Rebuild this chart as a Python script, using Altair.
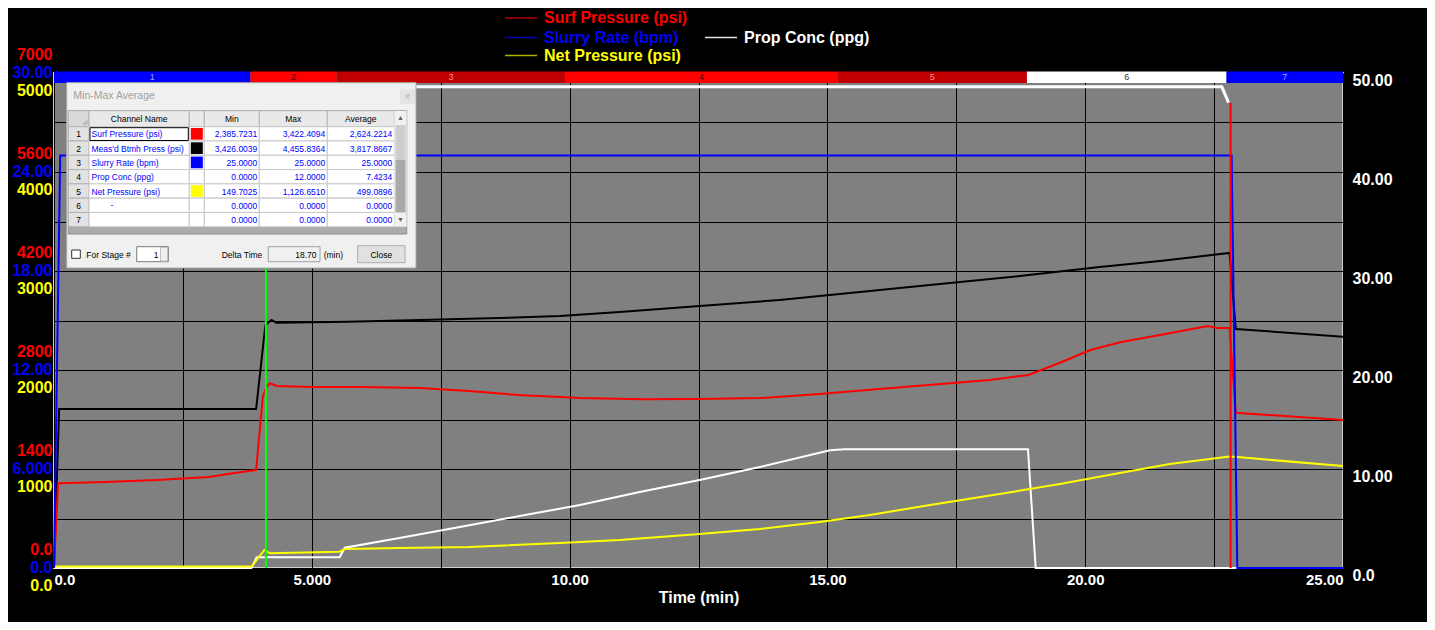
import altair as alt
import pandas as pd

# ---------------- data ----------------
surf_t = [0.0, 0.08, 1.0, 2.0, 3.0, 3.5, 3.92, 4.05, 4.12, 4.19, 4.32, 5.0, 6.0, 7.1, 8.05, 9.0, 10.2,
          11.4, 12.5, 13.7, 14.85, 16.0, 17.2, 18.15, 18.9, 19.5, 20.1, 20.7, 21.45, 22.38, 22.55, 22.8,
          22.92, 25.0]
surf_v = [0, 1200, 1216, 1244, 1287, 1343, 1386, 2420, 2560, 2612, 2575, 2560, 2560, 2545, 2503, 2446,
          2404, 2388, 2390, 2404, 2460, 2531, 2602, 2658, 2730, 2899, 3083, 3196, 3295, 3422, 3394, 3394,
          2196, 2093]

btmh_t = [0.0, 0.1, 3.92, 4.1, 4.22, 4.31, 5.7, 7.1, 8.64, 9.81, 10.97, 12.52, 14.07, 15.63, 17.18,
          18.73, 20.28, 21.45, 22.8, 22.92, 25.0]
btmh_v = [0, 2248, 2248, 3436, 3507, 3469, 3483, 3507, 3535, 3564, 3620, 3705, 3790, 3903, 4016, 4129,
          4257, 4341, 4455, 3380, 3271]

rate_t = [0.0, 0.12, 22.84, 22.95, 25.0]
rate_v = [0, 25, 25, 0, 0]

net_t = [0.0, 3.83, 4.08, 4.18, 5.54, 5.64, 6.7, 8.06, 9.81, 10.97, 12.52, 13.69, 14.85, 15.82, 16.99,
         18.34, 19.51, 20.67, 21.64, 22.8, 22.95, 25.0]
net_v = [15, 15, 182, 150, 165, 192, 202, 212, 253, 283, 343, 394, 465, 535, 636, 747, 848, 960, 1050,
         1126, 1120, 1030]

prop_t = [0.0, 3.83, 3.93, 5.54, 5.64, 6.7, 7.87, 9.03, 10.2, 11.36, 12.52, 13.69, 15.05, 15.33, 18.89,
          19.04, 25.0]
prop_v = [0, 0, 1.08, 1.08, 2.05, 3.03, 4.14, 5.25, 6.36, 7.68, 8.89, 10.2, 11.9, 12.0, 12.0, 0, 0]

top_t = [0.3, 22.65, 22.78]
top_v = [48.6, 48.6, 47.0]

stage_edges = [0.0, 3.81, 5.48, 9.92, 15.20, 18.87, 22.74, 25.0]
stage_names = ["1", "2", "3", "4", "5", "6", "7"]
stage_fill = ["#0000ff", "#ff0000", "#c00000", "#ff0000", "#c00000", "#ffffff", "#0000ff"]
stage_label_color = ["#a0a0ff", "#500000", "#ff9090", "#500000", "#ff9090", "#333333", "#a0a0ff"]

marker_t = [4.11, 22.82]
marker_top = [50.0, 47.0]
marker_color = ["#00ff00", "#ff0000"]

legend_labels = ["Surf Pressure (psi)", "Slurry Rate (bpm)", "Net Pressure (psi)", "Prop Conc (ppg)"]
legend_text_color = ["#ff0000", "#0000ff", "#ffff00", "#ffffff"]
legend_line_color = ["#b00000", "#0000b0", "#b0b000", "#e0e0e0"]

table_headers = ["Channel Name", "", "Min", "Max", "Average"]
table_channels = ["Surf Pressure (psi)", "Meas'd Btmh Press (psi)", "Slurry Rate (bpm)",
                  "Prop Conc (ppg)", "Net Pressure (psi)", "-", ""]
table_swatch = ["#ff0000", "#000000", "#0000ff", "", "#ffff00", "", ""]
table_min = ["2,385.7231", "3,426.0039", "25.0000", "0.0000", "149.7025", "0.0000", "0.0000"]
table_max = ["3,422.4094", "4,455.8364", "25.0000", "12.0000", "1,126.6510", "0.0000", "0.0000"]
table_avg = ["2,624.2214", "3,817.8667", "25.0000", "7.4234", "499.0896", "0.0000", "0.0000"]
dialog_title = "Min-Max Average"
stage_label = "For Stage #"
stage_number = "1"
delta_label = "Delta Time"
delta_value = "18.70"
delta_unit = "(min)"
close_label = "Close"

# ---------------- layout ----------------
FONT = "Liberation Sans"
W, H = 1289, 495
OX, OY = 54, 73          # page position of the plot origin

x_axis = alt.Axis(
    values=[i * 2.5 for i in range(11)],
    labelExpr="datum.value % 5 != 0 ? '' : (datum.value == 0 ? '0.0' : (datum.value < 10 ? format(datum.value, '.3f') : format(datum.value, '.2f')))",
    grid=True, gridColor="#000000", gridWidth=1, domain=False, ticks=False, labelFlush=True,
    labelColor="#ffffff", labelFontSize=15, labelFontWeight="bold", labelPadding=4,
    titleColor="#ffffff", titleFontSize=16, titleFontWeight="bold", titlePadding=2,
)
X = alt.X("t:Q", scale=alt.Scale(domain=[0, 25], nice=False, zero=False), axis=x_axis, title="Time (min)")


def yscale(lo, hi):
    return alt.Scale(domain=[lo, hi], nice=False, zero=False)


def left_axis(values, expr, color, offset):
    return alt.Axis(orient="left", values=values, labelExpr=expr, labelColor=color, labelFontSize=16,
                    labelFontWeight="bold", labelPadding=2, labelOffset=offset, grid=False,
                    domain=False, ticks=False, title=None)


red_axis = left_axis([0, 1400, 2800, 4200, 5600, 7000],
                     "datum.value == 0 ? '0.0' : format(datum.value, 'd')", "#ff0000", -19)
blue_axis = left_axis([0, 6, 12, 18, 24, 30],
                      "datum.value == 0 ? '0.0' : (datum.value < 10 ? format(datum.value, '.3f') : format(datum.value, '.2f'))",
                      "#0000ff", -1)
yellow_axis = left_axis([0, 1000, 2000, 3000, 4000, 5000],
                        "datum.value == 0 ? '0.0' : format(datum.value, 'd')", "#ffff00", 17)
right_axis = alt.Axis(orient="right", values=[i * 5 for i in range(11)],
                      labelExpr="datum.value % 10 != 0 ? '' : (datum.value == 0 ? '0.0' : format(datum.value, '.2f'))",
                      labelColor="#ffffff", labelFontSize=16, labelFontWeight="bold", labelPadding=9,
                      labelOffset=7.5, grid=True, gridColor="#000000", gridWidth=1, domain=False,
                      ticks=False, title=None)


def series(t, v, domain, color, axis=None, width=2.0):
    df = pd.DataFrame({"t": t, "v": v})
    return alt.Chart(df).mark_line(color=color, strokeWidth=width).encode(
        x=X, y=alt.Y("v:Q", scale=yscale(*domain), axis=axis))


prop_layer = series(prop_t, prop_v, (0, 50), "#ffffff", right_axis)
top_layer = series(top_t, top_v, (0, 50), "#ffffff", None, 3.0)
net_layer = series(net_t, net_v, (0, 5000), "#ffff00", yellow_axis)
btmh_layer = series(btmh_t, btmh_v, (0, 7000), "#000000", None)
surf_layer = series(surf_t, surf_v, (0, 7000), "#ff0000", red_axis)
rate_layer = series(rate_t, rate_v, (0, 30), "#0000ff", blue_axis)

mk = pd.DataFrame({"t": marker_t, "lo": [0.0] * len(marker_t), "hi": marker_top, "c": marker_color})
marker_layer = alt.Chart(mk).mark_rule(strokeWidth=2).encode(
    x=X, y=alt.Y("lo:Q", scale=yscale(0, 50), axis=None), y2="hi:Q", color=alt.Color("c:N", scale=None))

# stage bar across the top of the plot
st = pd.DataFrame({"t": stage_edges[:-1], "t2": stage_edges[1:], "fill": stage_fill})
stage_rect = alt.Chart(st).mark_rect().encode(
    x=X, x2="t2:Q", y=alt.value(-1.5), y2=alt.value(10), color=alt.Color("fill:N", scale=None))
stl = pd.DataFrame({"t": [(a + b) / 2 for a, b in zip(stage_edges[:-1], stage_edges[1:])],
                    "name": stage_names, "c": stage_label_color})
stage_text = alt.Chart(stl).mark_text(font=FONT, fontSize=9, baseline="middle").encode(
    x=X, y=alt.value(4.3), text="name:N", color=alt.Color("c:N", scale=None))

# legend above the plot (page coordinates converted to plot coordinates)
leg_pos = [(505, 18), (505, 37.5), (505, 55.5), (705, 37.5)]
leg_lines = pd.DataFrame({
    "x": [p[0] - OX for p in leg_pos], "x2": [p[0] + 32 - OX for p in leg_pos],
    "y": [p[1] - OY for p in leg_pos], "c": legend_line_color})
legend_lines = alt.Chart(leg_lines).mark_rule(strokeWidth=1.5).encode(
    x=alt.X("x:Q", scale=None), x2="x2:Q", y=alt.Y("y:Q", scale=None), color=alt.Color("c:N", scale=None))
leg_text = pd.DataFrame({
    "x": [p[0] + 39 - OX for p in leg_pos], "y": [p[1] - OY for p in leg_pos],
    "label": legend_labels, "c": legend_text_color})
legend_texts = alt.Chart(leg_text).mark_text(font=FONT, fontSize=16, fontWeight="bold", align="left",
                                             baseline="middle").encode(
    x=alt.X("x:Q", scale=None), y=alt.Y("y:Q", scale=None), text="label:N", color=alt.Color("c:N", scale=None))

# ---------------- the Min-Max Average dialog ----------------
rects = []   # (x1, y1, x2, y2, fill, stroke) in page coordinates
texts = {"left": [], "center": [], "right": []}   # (text, x, y, color, size)


def R(x1, y1, x2, y2, fill, stroke="transparent"):
    rects.append((x1, y1, x2, y2, fill, stroke))


def T(align, s, x, y, color="#000000", size=8.5):
    texts[align].append((s, x, y, color, size))


R(66.7, 82.7, 416, 268, "#f0f0f0", "#a8a8a8")
R(400, 89.3, 415, 104, "#e3e3e3")
T("left", dialog_title, 73.3, 96, "#a0a0a0", 10.5)
T("center", "×", 407.5, 96.5, "#b8b8b8", 11)
R(68.3, 110.7, 406.7, 234, "#ababab", "#8c8c8c")

cols = [68.3, 89.0, 189.3, 204.3, 259.3, 327.3, 394.3]
HDR_TOP, HDR_BOT = 110.7, 126.7
ROW_H = 14.29
R(cols[0], HDR_TOP, cols[1], HDR_BOT, "#dadada", "#b4b4b4")
T("center", "◢", 84, 122, "#b8b8b8", 7)
for k, h in enumerate(table_headers):
    R(cols[k + 1], HDR_TOP, cols[k + 2], HDR_BOT, "#e9e9e9", "#b4b4b4")
    T("center", h, (cols[k + 1] + cols[k + 2]) / 2, (HDR_TOP + HDR_BOT) / 2 + 0.5)
for i in range(len(table_channels)):
    y1 = HDR_BOT + ROW_H * i
    y2 = y1 + ROW_H
    yc = (y1 + y2) / 2 + 0.5
    R(cols[0], y1, cols[1], y2, "#e2e2e2", "#b4b4b4")
    T("center", str(i + 1), (cols[0] + cols[1]) / 2, yc)
    for k in range(1, 6):
        R(cols[k], y1, cols[k + 1], y2, "#ffffff", "#c8c8c8")
    if table_swatch[i]:
        R(cols[2] + 1.5, y1 + 1.3, cols[3] - 1.5, y2 - 1.3, table_swatch[i])
    name = table_channels[i]
    if name == "-":
        T("center", name, 112, yc - 1, "#0000ff")
    elif name:
        T("left", name, cols[1] + 2.5, yc, "#0000ff")
    T("right", table_min[i], cols[4] - 2, yc, "#0000ff")
    T("right", table_max[i], cols[5] - 2, yc, "#0000ff")
    T("right", table_avg[i], cols[6] - 2, yc, "#0000ff")
R(cols[1] + 1, HDR_BOT + 1, cols[2] - 1, HDR_BOT + ROW_H - 0.5, "transparent", "#000000")
# scrollbar
R(394.3, 110.7, 406.7, 226.7, "#f0f0f0")
R(395.5, 125, 405.5, 160, "#cdcdcd")
R(395.5, 160, 405.5, 212.5, "#a9a9a9")
T("center", "▲", 400.5, 117.5, "#606060", 7)
T("center", "▼", 400.5, 220, "#606060", 7)
# bottom controls
R(71.7, 250, 80.3, 258.3, "#ffffff", "#333333")
T("left", stage_label, 86.3, 254.5)
R(136.7, 246.7, 168.3, 261.7, "#ffffff", "#7a7a7a")
R(160.5, 247.5, 167.5, 261, "#f0f0f0", "#c0c0c0")
T("right", stage_number, 158.5, 254.5)
T("left", delta_label, 221.7, 254.5)
R(268.3, 246.7, 320, 261.7, "#f0f0f0", "#a0a0a0")
T("right", delta_value, 316.5, 254.5)
T("left", delta_unit, 323.7, 254.5)
R(357.7, 245.7, 405, 262.7, "#e1e1e1", "#adadad")
T("center", close_label, 381.3, 254.5)

rdf = pd.DataFrame(rects, columns=["x", "y", "x2", "y2", "fill", "stroke"])
rdf = rdf.assign(x=rdf.x - OX, x2=rdf.x2 - OX, y=rdf.y - OY, y2=rdf.y2 - OY)
rdf["o"] = range(len(rdf))
dialog_rects = alt.Chart(rdf).mark_rect(strokeWidth=1).encode(
    x=alt.X("x:Q", scale=None), x2="x2:Q", y=alt.Y("y:Q", scale=None), y2="y2:Q",
    fill=alt.Fill("fill:N", scale=None), stroke=alt.Stroke("stroke:N", scale=None),
    order=alt.Order("o:Q"))

dialog_texts = []
for align, items in texts.items():
    tdf = pd.DataFrame(items, columns=["s", "x", "y", "c", "size"])
    tdf = tdf.assign(x=tdf.x - OX, y=tdf.y - OY)
    dialog_texts.append(
        alt.Chart(tdf).mark_text(font=FONT, align=align, baseline="middle").encode(
            x=alt.X("x:Q", scale=None), y=alt.Y("y:Q", scale=None), text="s:N",
            color=alt.Color("c:N", scale=None), size=alt.Size("size:Q", scale=None)))

chart = alt.layer(
    prop_layer, top_layer, net_layer, btmh_layer, surf_layer, rate_layer, marker_layer,
    stage_rect, stage_text, legend_lines, legend_texts, dialog_rects, *dialog_texts
).resolve_scale(y="independent").properties(
    width=W, height=H, background="#000000",
    autosize=alt.AutoSizeParams(type="none"),
    padding={"left": OX - 8, "top": OY - 8, "right": 1427 - (OX + W), "bottom": 622 - (OY + H)},
).configure_view(fill="#808080", stroke="#d0d0d0", strokeWidth=2).configure_axis(
    labelFont=FONT, titleFont=FONT)

chart.save("out.html", embed_options={"renderer": "svg", "actions": False})
